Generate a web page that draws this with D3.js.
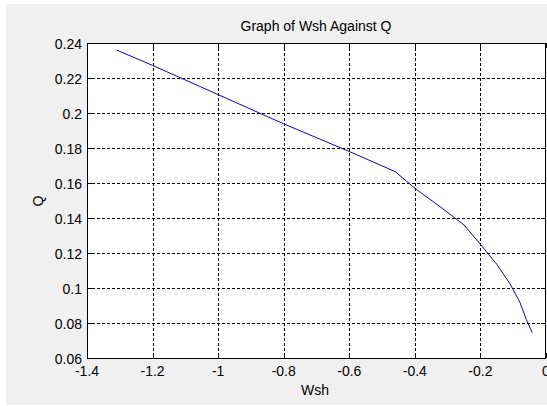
<!DOCTYPE html>
<html>
<head>
<meta charset="utf-8">
<script src="https://cdn.jsdelivr.net/npm/d3@7"></script>
<style>
	body { margin: 0; background: #ffffff; }
	svg { display: block; font-family: 'Liberation Sans', Arial, sans-serif; }
	.tick-label { font-size: 14px; fill: #000000; }
	.axis-label { font-size: 14px; fill: #000000; }
</style>
</head>
<body>
<svg id="chart-svg" width="547" height="406"></svg>
<script>
// Wsh vs Q values
const WSH = [ -1.31, -1.2, -1.0, -0.8, -0.6, -0.46, -0.4, -0.32, -0.25, -0.2, -0.15, -0.11, -0.08, -0.06, -0.042 ];
const Q = [ 0.236, 0.2272, 0.2105, 0.1938, 0.178, 0.1665, 0.157, 0.146, 0.136, 0.125, 0.1135, 0.1025, 0.092, 0.082, 0.0745 ];
const X_TICKS = [ -1.4, -1.2, -1, -0.8, -0.6, -0.4, -0.2, 0 ];
const Y_TICKS = [ 0.06, 0.08, 0.1, 0.12, 0.14, 0.16, 0.18, 0.2, 0.22, 0.24 ];

const PADDING = { top: 43, bottom: 48, left: 87, right: 1 };

const svg = d3.select('#chart-svg');
const svgWidth = 547;
const svgHeight = 406;

// figure background
svg.append('rect').attr('x', 6).attr('y', 4).attr('width', svgWidth - 6).attr('height', 401).attr('fill', '#f0f0f0');

const xScale = d3.scaleLinear().domain([ -1.4, 0 ]).range([ PADDING.left, svgWidth - PADDING.right ]);
const yScale = d3.scaleLinear().domain([ 0.06, 0.24 ]).range([ svgHeight - PADDING.bottom, PADDING.top ]);
const x0 = xScale.range()[0], x1 = xScale.range()[1];
const y0 = yScale.range()[0], y1 = yScale.range()[1];

svg.append('rect').attr('x', x0).attr('y', y1).attr('width', x1 - x0).attr('height', y0 - y1).attr('fill', '#ffffff');

// dotted grid
const grid = svg.append('g').attr('stroke', '#000000').attr('stroke-width', 1).attr('stroke-dasharray', '3,2');
grid
	.selectAll('.vgrid')
	.data(X_TICKS.slice(1, -1))
	.enter()
	.append('line')
	.attr('x1', (d) => Math.round(xScale(d)) + 0.5)
	.attr('x2', (d) => Math.round(xScale(d)) + 0.5)
	.attr('y1', y1)
	.attr('y2', y0);
grid
	.selectAll('.hgrid')
	.data(Y_TICKS.slice(1, -1))
	.enter()
	.append('line')
	.attr('y1', (d) => Math.round(yScale(d)) + 0.5)
	.attr('y2', (d) => Math.round(yScale(d)) + 0.5)
	.attr('x1', x0)
	.attr('x2', x1);

// inward ticks on all four sides
const ticks = svg.append('g').attr('stroke', '#000000').attr('stroke-width', 1);
X_TICKS.forEach((t) => {
	const px = Math.round(xScale(t)) + 0.5;
	ticks.append('line').attr('x1', px).attr('x2', px).attr('y1', y0).attr('y2', y0 - 5);
	ticks.append('line').attr('x1', px).attr('x2', px).attr('y1', y1).attr('y2', y1 + 5);
});
Y_TICKS.forEach((t) => {
	const py = Math.round(yScale(t)) + 0.5;
	ticks.append('line').attr('y1', py).attr('y2', py).attr('x1', x0).attr('x2', x0 + 5);
	ticks.append('line').attr('y1', py).attr('y2', py).attr('x1', x1).attr('x2', x1 - 5);
});

// data line
const line = d3.line().x((d, i) => xScale(WSH[i])).y((d) => yScale(d));
svg.append('path').datum(Q).attr('d', line).attr('fill', 'none').attr('stroke', '#0000ff').attr('stroke-width', 1);

// axes box
svg
	.append('rect')
	.attr('x', x0 + 0.5)
	.attr('y', y1 + 0.5)
	.attr('width', x1 - x0 - 1)
	.attr('height', y0 - y1)
	.attr('fill', 'none')
	.attr('stroke', '#000000')
	.attr('stroke-width', 1);

// tick labels (plain hyphen minus, like the original)
svg
	.selectAll('.xlabel')
	.data(X_TICKS)
	.enter()
	.append('text')
	.attr('class', 'tick-label')
	.attr('x', (d) => xScale(d))
	.attr('y', y0 + 18)
	.attr('text-anchor', 'middle')
	.text((d) => String(d));
svg
	.selectAll('.ylabel')
	.data(Y_TICKS)
	.enter()
	.append('text')
	.attr('class', 'tick-label')
	.attr('x', x0 - 5)
	.attr('y', (d) => yScale(d) + 6)
	.attr('text-anchor', 'end')
	.text((d) => String(d));

// title and axis labels
svg
	.append('text')
	.attr('class', 'axis-label')
	.attr('x', 316)
	.attr('y', 31)
	.attr('text-anchor', 'middle')
	.text('Graph of Wsh Against Q');
svg
	.append('text')
	.attr('class', 'axis-label')
	.attr('x', 315)
	.attr('y', 395)
	.attr('text-anchor', 'middle')
	.text('Wsh');
svg
	.append('text')
	.attr('class', 'axis-label')
	.attr('transform', 'translate(43, 201) rotate(-90)')
	.attr('text-anchor', 'middle')
	.text('Q');
</script>
</body>
</html>
